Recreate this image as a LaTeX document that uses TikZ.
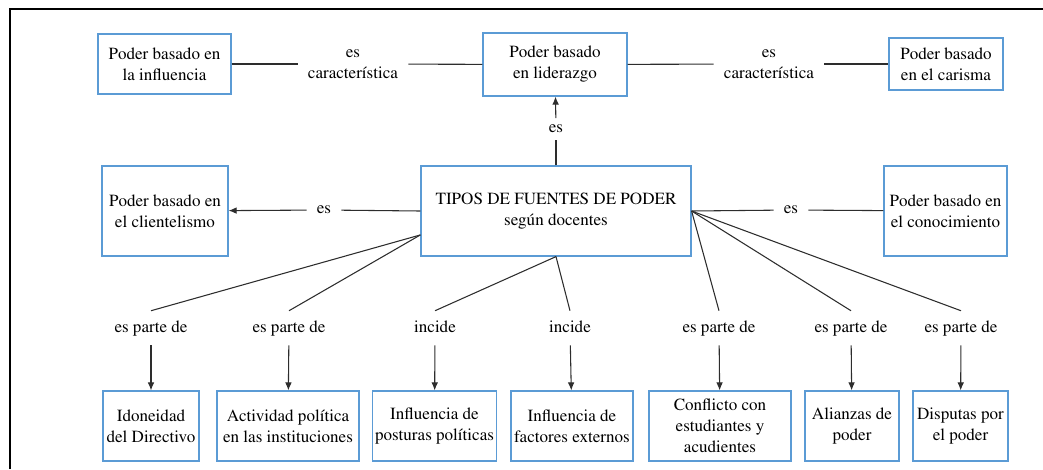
\documentclass[tikz,border=0pt]{standalone}
\usepackage[T1]{fontenc}
\usepackage{mathptmx}
\usetikzlibrary{arrows.meta}
\definecolor{azulcaja}{RGB}{91,155,213}
\definecolor{linea}{RGB}{45,45,45}
\begin{document}
\begin{tikzpicture}[x=0.75pt, y=-0.75pt,
        caja/.style={draw=azulcaja, line width=0.9pt, align=center, inner sep=2pt,
            font=\fontsize{12.8}{15.8}\selectfont},
        etq/.style={inner xsep=7.5pt, inner ysep=6pt, align=center,
            font=\fontsize{12.8}{15.8}\selectfont},
        etqabajo/.style={etq, text height=9pt, text depth=2.5pt, inner ysep=7pt},
        con/.style={draw=linea, line width=0.8pt},
        flecha/.style={con, -{Latex[length=6pt, width=5pt]}}]
    \useasboundingbox (0, 0) rectangle (1043, 469);
    \draw[line width=1.1pt] (10, 469) -- (10, 9) -- (1043, 9);

    % fila de arriba
    \node[caja, minimum width=99.75pt, minimum height=45pt] (infl) at (164.5, 64) {Poder basado en\\la influencia};
    \node[caja, minimum width=108pt, minimum height=47.25pt] (lider) at (555, 64.5) {Poder basado\\en liderazgo};
    \node[caja, minimum width=85.5pt, minimum height=39pt] (caris) at (946, 64) {Poder basado\\en el carisma};
    \node[etq] (carI) at (353, 64) {es\\característica};
    \node[etq] (carD) at (769, 64) {es\\característica};

    % fila del medio
    \node[caja, minimum width=94.5pt, minimum height=67.5pt] (clien) at (165, 211) {Poder basado en\\el clientelismo};
    \node[caja, minimum width=202.5pt, minimum height=67.5pt] (centro) at (556, 211) {TIPOS DE FUENTES DE PODER\\según docentes};
    \node[caja, minimum width=92.25pt, minimum height=67.5pt] (conoc) at (945.5, 211) {Poder basado en\\el conocimiento};
    \node[etq, inner ysep=5pt] (esA) at (556, 129) {es};
    \node[etq] (esI) at (324, 210) {es};
    \node[etq] (esD) at (791, 210) {es};

    % fila de abajo
    \node[caja, minimum width=72pt, minimum height=52.5pt] (idon) at (151, 426) {Idoneidad\\del Directivo};
    \node[caja, minimum width=106.5pt, minimum height=52.5pt] (activ) at (288, 426) {Actividad política\\en las instituciones};
    \node[caja, minimum width=92.25pt, minimum height=52.5pt] (postu) at (434.5, 426) {Influencia de\\posturas políticas};
    \node[caja, minimum width=91.5pt, minimum height=52.5pt] (exter) at (572, 426) {Influencia de\\factores externos};
    \node[caja, minimum width=106.5pt, minimum height=52.5pt] (confl) at (720, 426) {Conflicto con\\estudiantes y\\acudientes};
    \node[caja, minimum width=70.5pt, minimum height=52.5pt] (alian) at (852, 426) {Alianzas de\\poder};
    \node[caja, minimum width=71.25pt, minimum height=52.5pt] (disp) at (960.5, 426) {Disputas por\\el poder};

    \node[etqabajo] (p1) at (151, 328) {es parte de};
    \node[etqabajo] (p2) at (289, 328) {es parte de};
    \node[etqabajo] (p3) at (435, 328) {incide};
    \node[etqabajo] (p4) at (570, 328) {incide};
    \node[etqabajo] (p5) at (719, 328) {es parte de};
    \node[etqabajo] (p6) at (851, 328) {es parte de};
    \node[etqabajo] (p7) at (961, 328) {es parte de};

    % conectores
    \draw[con] (infl) -- (carI);
    \draw[con] (carI) -- (lider);
    \draw[con] (lider) -- (carD);
    \draw[con] (carD) -- (caris);
    \draw[con] (centro) -- (esA);
    \draw[flecha] (esA) -- (lider);
    \draw[con] (centro.west) -- (esI);
    \draw[flecha] (esI) -- (clien);
    \draw[con] (centro.east) -- (esD);
    \draw[con] (esD) -- (conoc);

    \draw[con] (centro.190) -- (p1.north);
    \draw[con] (centro.190) -- (p2.north);
    \draw[con] (centro.south) -- (p3.north);
    \draw[con] (centro.south) -- (p4.north);
    \draw[con] (centro.east) -- (p5.north);
    \draw[con] (centro.east) -- (p6.north);
    \draw[con] (centro.east) -- (p7.north);

    \draw[flecha] (p1) -- (idon);
    \draw[flecha] (p2) -- (activ);
    \draw[flecha] (p3) -- (postu);
    \draw[flecha] (p4) -- (exter);
    \draw[flecha] (p5) -- (confl);
    \draw[flecha] (p6) -- (alian);
    \draw[flecha] (p7) -- (disp);
\end{tikzpicture}
\end{document}
